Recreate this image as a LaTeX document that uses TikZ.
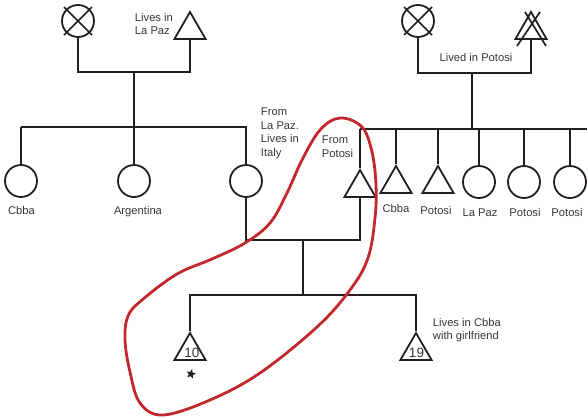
\documentclass[tikz,border=0pt]{standalone}
\usepackage{fontspec}
\setmainfont{Liberation Sans}
\usetikzlibrary{shapes.geometric}
\definecolor{ink}{HTML}{231F20}
\definecolor{loopred}{HTML}{C1272D}
\begin{document}
\begin{tikzpicture}[x=1pt,y=-1pt,
  line width=1.9pt, draw=ink,
  fem/.style={circle,draw=ink,line width=1.8pt,minimum size=32pt,inner sep=0pt},
  mal/.style={regular polygon,regular polygon sides=3,draw=ink,line width=1.8pt,
              minimum size=36pt,inner sep=0pt},
  lbl/.style={font=\fontsize{11.2}{13.5}\selectfont,text=ink!90,inner sep=0pt},
  note/.style={lbl,align=left,anchor=north west},
  place/.style={lbl,anchor=base},
  num/.style={font=\fontsize{13.5}{14}\selectfont,text=ink!90,inner sep=0pt},
  xline/.style={line width=1.7pt,draw=ink}
]
\useasboundingbox (0,0) rectangle (587,418);

% ---------- first grandparents ----------
\node[fem] (gmL) at (78,21) {};
\draw[xline] ([shift={(-14,-14)}]gmL.center) -- ([shift={(14,14)}]gmL.center);
\draw[xline] ([shift={(14,-14)}]gmL.center) -- ([shift={(-14,14)}]gmL.center);
\node[mal] (gfL) at (190,30) {};
\node[note] (gfLnote) at (134,12) {Lives in\\La Paz};
\coordinate (mL) at (134,72);
\coordinate (sibL) at (134,127);
\draw (gmL.south) |- (mL) -| (gfL.south);
\draw (mL) -- (sibL);

% ---------- second grandparents ----------
\node[fem] (gmR) at (418,21) {};
\draw[xline] ([shift={(-14,-14)}]gmR.center) -- ([shift={(14,14)}]gmR.center);
\draw[xline] ([shift={(14,-14)}]gmR.center) -- ([shift={(-14,14)}]gmR.center);
\node[mal] (gfR) at (531,30) {};
\draw[xline] ([shift={(-6,-18)}]gfR.center) -- ([shift={(15,16)}]gfR.center);
\draw[xline] ([shift={(9,-18)}]gfR.center) -- ([shift={(-14,16)}]gfR.center);
\node[place] (gfRnote) at (476,61) {Lived in Potosi};
\coordinate (mR) at (472,73);
\coordinate (sibR) at (472,129);
\draw (gmR.south) |- (mR) -| (gfR.south);
\draw (mR) -- (sibR);

% ---------- first sibship ----------
\node[fem] (a1) at (21,181) {};
\node[fem] (a2) at (134,181) {};
\node[fem] (a3) at (246,181) {};
\coordinate (barLw) at (21,127);
\coordinate (barLe) at (247,127);
\draw (barLw) -- (barLe);
\draw (a1.north) -- (a1.north |- barLw);
\draw (a2.north) -- (a2.north |- barLw);
\draw (a3.north) -- (a3.north |- barLw);
\node[place] (a1l) at (21.5,214) {Cbba};
\node[place] (a2l) at (138,214) {Argentina};
\node[note] (a3note) at (260,107) {From\\La Paz.\\Lives in\\Italy};

% ---------- second sibship ----------
\node[mal] (b1) at (360,188) {};
\node[mal] (b2) at (396,184) {};
\node[mal] (b3) at (438,184) {};
\node[fem] (b4) at (479,182) {};
\node[fem] (b5) at (524,182) {};
\node[fem] (b6) at (570,182) {};
\coordinate (barRw) at (360,129);
\coordinate (barRe) at (587,129);
\draw (barRw) -- (barRe);
\foreach \k in {b1,b2,b3,b4,b5,b6}
  \draw (\k.north) -- (\k.north |- barRw);
\node[note] (b1note) at (321,135) {From\\Potosi};
\node[place] (b2l) at (396,212) {Cbba};
\node[place] (b3l) at (436,214) {Potosi};
\node[place] (b4l) at (480,216) {La Paz};
\node[place] (b5l) at (525,216) {Potosi};
\node[place] (b6l) at (567,216) {Potosi};

% ---------- parents and their children ----------
\coordinate (mP) at (303,240);
\coordinate (barC) at (303,295);
\draw (a3.south) |- (mP) -| (b1.south);
\draw (mP) -- (barC);
\node[mal] (c1) at (190,351) {};
\node[mal] (c2) at (416,351) {};
\draw (c1.north) |- (barC) -| (c2.north);
\node[num] (c1n) at (192,353) {10};
\node[num] (c2n) at (416.5,353) {19};
\node[star,star points=5,star point ratio=2.3,fill=ink,draw=none,
      minimum size=10pt,inner sep=0pt,rotate=-12] (ego) at (191,374) {};
\node[note] (c2note) at (432,317) {Lives in Cbba\\with girlfriend};

% ---------- hand-drawn loop ----------
\draw[loopred,line width=2.8pt] plot[smooth cycle,tension=0.6] coordinates {
  (340,118) (362,127) (372,152) (376,185) (375,218) (368,258) (350,290)
  (317,327) (260,373) (210,400) (163,415) (140,403) (130,372) (125,340)
  (128,316) (142,300) (177,274) (212,259) (245,243) (270,223) (287,193)
  (302,160) (320,130)};
\end{tikzpicture}
\end{document}
